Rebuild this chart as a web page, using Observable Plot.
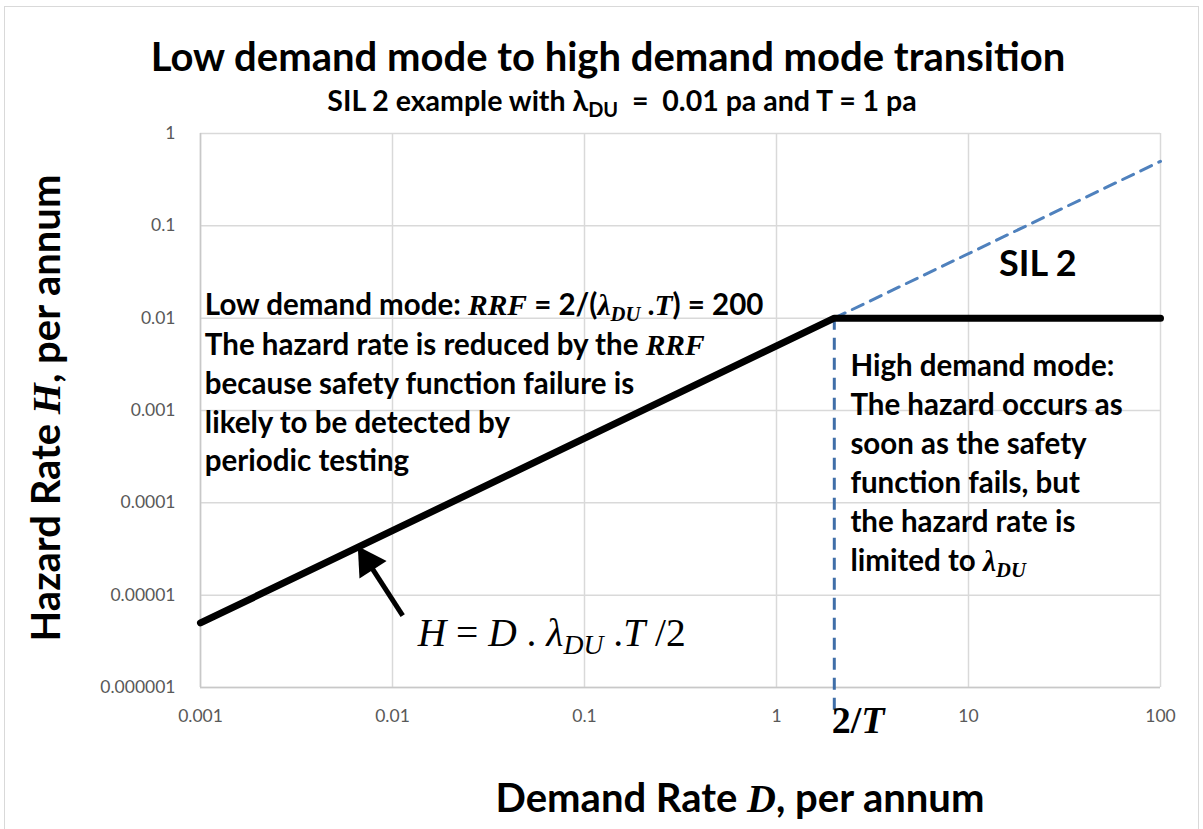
<!DOCTYPE html>
<html>
<head>
<meta charset="utf-8">
<script src="https://cdn.jsdelivr.net/npm/d3@7"></script>
<script src="https://cdn.jsdelivr.net/npm/@observablehq/plot@0.6"></script>
<style>
  html, body { margin: 0; padding: 0; background: #fff; }
  #wrap { position: relative; width: 1203px; height: 829px; overflow: hidden; font-family: Lato, "Open Sans", sans-serif; }
  #frame { position: absolute; left: 4px; top: 6px; width: 1195px; height: 840px; border: 1px solid #d9d9d9; box-sizing: border-box; }
  #chart { position: absolute; left: 0; top: 0; }
  .ov { position: absolute; white-space: nowrap; color: #000; font-weight: bold; }
  .m { font-family: "Liberation Serif", "DejaVu Serif", serif; font-style: italic; }
  .mu { font-family: "Liberation Serif", "DejaVu Serif", serif; font-style: normal; }
  sub { font-size: 0.7em; vertical-align: -0.3em; line-height: 0; }
</style>
</head>
<body>
<div id="wrap">
  <div id="frame"></div>
  <div id="chart"></div>
</div>
<script>
// ---- data ----
const xTicks = [0.001, 0.01, 0.1, 1, 10, 100];
const yTicks = [0.000001, 0.00001, 0.0001, 0.001, 0.01, 0.1, 1];
// Hazard rate: low demand slope up to D = 2/T, then capped at lambda_DU
const hazardD = [0.001, 2, 100];
const hazardH = [0.000005, 0.01, 0.01];
// continuation of the low-demand line (dashed)
const extD = [2, 100];
const extH = [0.01, 0.5];
// transition demand 2/T
const transitionD = [2];
const transitionH1 = [0.01];
const transitionH2 = [0.00000056];
// arrow pointing at the line (tail -> head)
const arrowTail = {D: 0.0113, H: 0.0000060};
const arrowHeadPt = {D: 0.00745, H: 0.0000229};
// annotation anchors (data coords)
const annLow = {D: 0.00106, H: 0.0225};
const annHigh = {D: 2.44, H: 0.0051};
const annSil = {D: 14.5, H: 0.04};
const annFormula = {D: 0.0136, H: 0.00000384};
const ann2T = {D: 1.95, H: 0.00000044};

const hazard = hazardD.map((D, i) => ({D, H: hazardH[i]}));
const ext = extD.map((D, i) => ({D, H: extH[i]}));

const fmt = d => String(d);

const plot = Plot.plot({
  width: 1203,
  height: 829,
  marginLeft: 200,
  marginRight: 43,
  marginTop: 133,
  marginBottom: 142,
  style: {fontFamily: "Lato, 'Open Sans', sans-serif", background: "transparent", overflow: "visible"},
  x: {type: "log", domain: [0.001, 100]},
  y: {type: "log", domain: [0.000001, 1]},
  marks: [
    Plot.gridX(xTicks, {stroke: "#d9d9d9", strokeOpacity: 1, strokeWidth: 1.5}),
    Plot.gridY(yTicks, {stroke: "#d9d9d9", strokeOpacity: 1, strokeWidth: 1.5}),
    Plot.ruleX([0.001], {stroke: "#c8c8c8", strokeWidth: 1.5}),
    Plot.ruleY([0.000001], {stroke: "#c8c8c8", strokeWidth: 1.5}),
    Plot.axisX(xTicks, {tickSize: 0, tickPadding: 22, fontSize: 17.5, fill: "#595959", label: null, tickFormat: fmt}),
    Plot.axisY(yTicks, {tickSize: 0, tickPadding: 25, fontSize: 17.5, fill: "#595959", label: null, tickFormat: fmt}),
    Plot.ruleX(transitionD.map((D, i) => ({D, y1: transitionH1[i], y2: transitionH2[i]})),
      {x: "D", y1: "y1", y2: "y2", stroke: "#3f6ea8", strokeWidth: 3, strokeDasharray: "12,8"}),
    Plot.line(ext, {x: "D", y: "H", stroke: "#4f81bd", strokeWidth: 3, strokeDasharray: "12,8"}),
    Plot.line(hazard, {x: "D", y: "H", stroke: "#000", strokeWidth: 7, strokeLinejoin: "miter"}),
    Plot.link([{x1: arrowTail.D, y1: arrowTail.H, x2: arrowHeadPt.D, y2: arrowHeadPt.H}],
      {x1: "x1", y1: "y1", x2: "x2", y2: "y2", stroke: "#000", strokeWidth: 5}),
    Plot.dot([arrowHeadPt], {x: "D", y: "H", symbol: "triangle", r: 12, fill: "#000", stroke: "none", rotate: -33})
  ]
});
document.getElementById("chart").appendChild(plot);

const sx = plot.scale("x"), sy = plot.scale("y");
const wrap = document.getElementById("wrap");
function place(html, left, top, style) {
  const d = document.createElement("div");
  d.className = "ov";
  d.innerHTML = html;
  d.style.left = left + "px";
  d.style.top = top + "px";
  Object.assign(d.style, style || {});
  wrap.appendChild(d);
  return d;
}

// Title & subtitle
place("Low demand mode to high demand mode transition", 608, 56,
  {fontSize: "40px", transform: "translate(-50%,-50%)"});
place("SIL 2 example with λ<sub>DU</sub> &nbsp;= &nbsp;0.01 pa and T = 1 pa", 622, 100,
  {fontSize: "28.5px", transform: "translate(-50%,-50%)"});

// Axis titles
place("Demand Rate <span class='m'>D</span>, per annum", 740, 797,
  {fontSize: "40px", transform: "translate(-50%,-50%)"});
place("Hazard Rate <span class='m'>H</span>, per annum", 45, 408,
  {fontSize: "40px", transform: "translate(-50%,-50%) rotate(-90deg)"});

// Low demand annotation
place("Low demand mode: <span class='m'>RRF</span> = 2/(<span class='m'>λ<sub>DU</sub></span> .<span class='m'>T</span>) = 200<br>" +
      "The hazard rate is reduced by the <span class='m'>RRF</span><br>" +
      "because safety function failure is<br>" +
      "likely to be detected by<br>" +
      "periodic testing",
  sx.apply(annLow.D), sy.apply(annLow.H),
  {fontSize: "29.5px", lineHeight: "38.5px"});

// High demand annotation
place("High demand mode:<br>The hazard occurs as<br>soon as the safety<br>function fails, but<br>the hazard rate is<br>limited to <span class='m'>λ<sub>DU</sub></span>",
  sx.apply(annHigh.D), sy.apply(annHigh.H),
  {fontSize: "29.5px", lineHeight: "39px"});

// SIL 2
place("SIL 2", sx.apply(annSil.D), sy.apply(annSil.H),
  {fontSize: "36px", transform: "translateY(-50%)"});

// Formula
place("<span class='m'>H</span> <span class='mu'>=</span> <span class='m'>D</span> . <span class='m'>λ<sub>DU</sub></span> .<span class='m'>T</span> <span class='mu'>/2</span>",
  sx.apply(annFormula.D), sy.apply(annFormula.H),
  {fontSize: "39.5px", fontWeight: "normal", fontFamily: "'Liberation Serif', serif", transform: "translateY(-50%)"});

// 2/T
place("<span class='mu'>2/</span><span class='m'>T</span>", sx.apply(ann2T.D), sy.apply(ann2T.H),
  {fontSize: "38px", fontFamily: "'Liberation Serif', serif", transform: "translateY(-50%)"});
</script>
</body>
</html>
